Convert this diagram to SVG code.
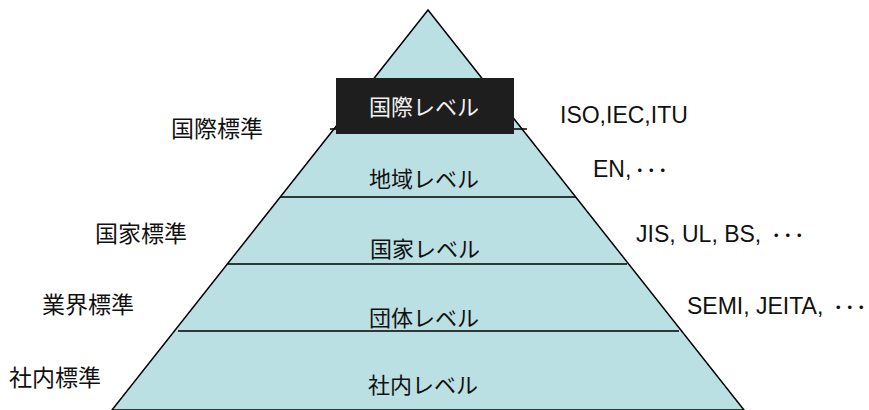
<svg xmlns="http://www.w3.org/2000/svg" width="869" height="410" viewBox="0 0 869 410">
<style>
.lbl{font-family:"Noto Sans CJK JP","Noto Sans",sans-serif;font-size:23px;fill:#111}
.lvl{font-family:"Noto Sans CJK JP","Noto Sans",sans-serif;font-size:22px;fill:#111;text-anchor:middle}
.std{font-family:"Liberation Sans","Noto Sans CJK JP",sans-serif;font-size:23px;fill:#111}
.dots{font-family:"Noto Sans CJK JP",sans-serif;font-size:17px;letter-spacing:-5.5px}
.sep{stroke:#000;stroke-width:1.5;fill:none}
</style>
<rect width="869" height="410" fill="#fff"/>
<g id="pyramid">
<polygon points="428,10 112,410 744,410" fill="#BBE0E3" stroke="#000" stroke-width="1.5"/>
</g>
<g id="connectors">
<line class="sep" x1="330" y1="129" x2="527" y2="129"/>
<line class="sep" x1="280" y1="197" x2="576" y2="197"/>
<line class="sep" x1="228" y1="264" x2="627" y2="264"/>
<line class="sep" x1="178" y1="331" x2="679" y2="331"/>
</g>
<g id="level-international">
<rect x="336" y="78" width="178" height="56" fill="#1E1E1E"/>
<text class="lvl" x="424" y="114.5" style="fill:#f0f0f0">国際レベル</text>
</g>
<g id="level-regional"><text class="lvl" x="424" y="186.5">地域レベル</text></g>
<g id="level-national"><text class="lvl" x="425" y="256.5">国家レベル</text></g>
<g id="level-group"><text class="lvl" x="424" y="326">団体レベル</text></g>
<g id="level-company"><text class="lvl" x="423" y="393">社内レベル</text></g>
<g id="label-intl-std"><text class="lbl" x="171" y="136.5">国際標準</text></g>
<g id="label-natl-std"><text class="lbl" x="95" y="241.5">国家標準</text></g>
<g id="label-industry-std"><text class="lbl" x="42" y="312.5">業界標準</text></g>
<g id="label-company-std"><text class="lbl" x="9" y="385.5">社内標準</text></g>
<g id="std-intl"><text class="std" x="560" y="122.5">ISO,IEC,ITU</text></g>
<g id="std-regional"><text class="std" x="593" y="177">EN,<tspan class="dots">・・・</tspan></text></g>
<g id="std-national"><text class="std" x="636" y="242">JIS, UL, BS, <tspan class="dots">・・・</tspan></text></g>
<g id="std-group"><text class="std" x="687" y="314">SEMI, JEITA, <tspan class="dots">・・・</tspan></text></g>
</svg>
